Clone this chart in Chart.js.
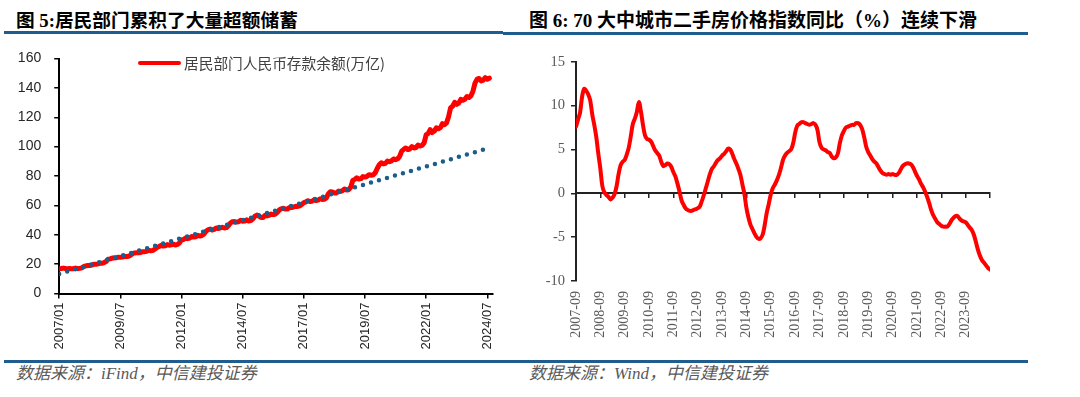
<!DOCTYPE html>
<html><head><meta charset="utf-8">
<script src="https://cdn.jsdelivr.net/npm/chart.js@4.4.1/dist/chart.umd.min.js"></script>
<style>
html,body{margin:0;padding:0;background:#fff;}
body{width:1080px;height:397px;overflow:hidden;position:relative;}
.t{position:absolute;white-space:nowrap;}
.title{font-weight:bold;font-size:18.7px;font-family:"Liberation Serif","Noto Sans CJK SC",serif;color:#000;top:9px;line-height:24px;}
.rule{position:absolute;background:#1F5D8E;}
.src{font-style:italic;font-size:17px;font-family:"Liberation Serif","Noto Sans CJK SC",serif;color:#595959;top:362.5px;line-height:22px;}
.leg{font-size:14.7px;font-family:"Noto Sans CJK SC",sans-serif;color:#404040;line-height:20px;top:52.5px;left:184px;}
canvas{position:absolute;top:0;}
</style></head>
<body>
<div class="t title" style="left:16px">图 5:居民部门累积了大量超额储蓄</div>
<div class="t title" style="left:529px;font-size:19px">图 6: 70 大中城市二手房价格指数同比（%）连续下滑</div>
<div class="rule" style="left:4px;top:31px;width:499px;height:3px"></div>
<div class="rule" style="left:503px;top:32px;width:525px;height:3px"></div>
<div class="rule" style="left:4px;top:360px;width:1024px;height:2.5px"></div>
<div class="t src" style="left:16px">数据来源：iFind，中信建投证券</div>
<div class="t src" style="left:529px">数据来源：Wind，中信建投证券</div>
<canvas id="c1" width="520" height="397" style="left:0"></canvas>
<canvas id="c2" width="560" height="397" style="left:520px"></canvas>
<div class="t" style="left:138px;top:60.5px;width:43px;height:4.5px;background:#FF0000;border-radius:2px"></div>
<div class="t leg">居民部门人民币存款余额(万亿)</div>
<script>
// ---------- Left chart data: household RMB deposits (trillion yuan), monthly from 2007/01 ----------
const depositStart = '2007/01';
const deposit2007 = [16.8, 17.0, 17.3, 17.0, 16.7, 17.0, 16.9, 16.9, 17.3, 16.9, 17.1, 17.3];
const deposit2008 = [18.3, 18.8, 19.1, 19.0, 19.3, 19.9, 19.9, 20.2, 20.6, 20.6, 21.0, 21.8];
const deposit2009 = [23.3, 23.6, 24.1, 24.1, 24.3, 24.7, 24.6, 24.8, 25.3, 25.1, 25.4, 26.1];
const deposit2010 = [27.1, 27.6, 27.7, 27.7, 27.9, 28.5, 28.5, 28.8, 29.4, 29.1, 29.4, 30.3];
const deposit2011 = [31.4, 32.0, 32.8, 32.3, 32.5, 33.3, 32.9, 33.1, 33.6, 33.0, 33.4, 34.4];
const deposit2012 = [36.5, 36.8, 37.8, 37.3, 37.7, 38.8, 38.4, 38.6, 39.6, 39.1, 39.5, 40.4];
const deposit2013 = [42.4, 43.4, 43.9, 43.2, 43.6, 44.6, 44.3, 44.6, 45.1, 44.6, 44.9, 46.2];
const deposit2014 = [48.0, 48.9, 49.0, 48.6, 48.8, 49.8, 49.2, 49.3, 50.2, 49.3, 49.6, 50.8];
const deposit2015 = [52.6, 53.4, 52.7, 51.8, 51.8, 53.2, 52.8, 53.3, 54.1, 53.7, 54.0, 55.2];
const deposit2016 = [56.9, 57.8, 58.0, 57.5, 57.5, 58.6, 58.5, 58.9, 59.4, 59.3, 59.7, 60.6];
const deposit2017 = [61.9, 62.3, 63.2, 62.6, 62.8, 63.7, 63.3, 63.6, 64.5, 64.0, 64.1, 64.9];
const deposit2018 = [67.8, 69.3, 69.1, 68.4, 68.5, 69.7, 69.5, 70.0, 71.2, 70.5, 70.7, 72.4];
const deposit2019 = [77.0, 77.7, 78.8, 77.9, 78.2, 79.6, 79.3, 79.8, 80.9, 80.5, 80.8, 82.1];
const deposit2020 = [85.1, 87.6, 89.0, 88.2, 88.6, 90.2, 89.7, 90.3, 91.6, 91.1, 91.7, 93.4];
const deposit2021 = [97.0, 98.2, 99.1, 98.0, 98.4, 100.0, 99.1, 99.4, 101.0, 100.4, 100.8, 102.5];
const deposit2022 = [108.0, 109.0, 111.6, 109.6, 110.6, 112.8, 112.1, 112.9, 115.6, 114.9, 116.2, 120.3];
const deposit2023 = [126.5, 127.5, 130.2, 128.8, 129.6, 132.2, 131.6, 132.3, 134.1, 133.5, 134.6, 137.9];
const deposit2024 = [143.4, 145.9, 146.4, 144.7, 145.3, 147.0, 145.9, 146.6];
// dotted trend line: read endpoints
const trendMonths = ['2007/01', '2024/07'];
const trendValues = [13.3, 98.7];
const leftTickLabels = ['2007/01', '2009/07', '2012/01', '2014/07', '2017/01', '2019/07', '2022/01', '2024/07'];
const leftAxisEnd = '2024/10';
const legendLabel = '居民部门人民币存款余额(万亿)';

// ---------- Right chart data: 70-city second-hand housing price index YoY (%), monthly from 2007-09 ----------
const priceStart = '2007-09';
const price2007 = [7.6, 8.4, 9.2, 11.0];
const price2008 = [11.9, 11.7, 11.3, 10.6, 9.0, 7.8, 6.4, 4.5, 2.8, 0.8, 0.1, -0.2];
const price2009 = [-0.4, -0.7, -0.5, -0.1, 0.8, 2.2, 3.2, 3.6, 3.8, 4.4, 5.2, 6.5];
const price2010 = [7.9, 8.5, 9.3, 10.4, 9.3, 7.8, 6.6, 6.2, 6.1, 5.9, 5.4, 4.9];
const price2011 = [4.6, 4.3, 3.6, 3.1, 3.2, 3.4, 3.3, 3.0, 2.4, 1.9, 1.1, 0.2];
const price2012 = [-0.8, -1.3, -1.7, -1.9, -2.0, -2.0, -1.9, -1.8, -1.7, -1.5, -0.9, -0.2];
const price2013 = [0.6, 1.4, 2.2, 2.8, 3.1, 3.5, 3.8, 4.0, 4.3, 4.5, 4.8, 5.1];
const price2014 = [5.0, 4.5, 3.9, 3.4, 2.8, 2.1, 1.0, -0.1, -1.7, -2.8, -3.6, -4.1];
const price2015 = [-4.6, -5.0, -5.2, -5.1, -4.7, -3.6, -2.2, -1.2, -0.1, 0.6, 1.0, 1.5];
const price2016 = [2.1, 2.9, 3.8, 4.3, 4.6, 4.8, 5.0, 5.7, 6.9, 7.7, 7.9, 8.1];
const price2017 = [8.1, 8.0, 7.9, 7.8, 7.9, 8.0, 7.8, 7.2, 5.8, 5.2, 5.0, 4.9];
const price2018 = [4.7, 4.6, 4.2, 4.0, 4.1, 4.5, 5.7, 6.6, 7.1, 7.5, 7.6, 7.7];
const price2019 = [7.8, 7.8, 8.0, 8.0, 7.8, 7.3, 6.4, 5.3, 4.7, 4.3, 3.9, 3.6];
const price2020 = [3.4, 3.0, 2.6, 2.3, 2.2, 2.1, 2.2, 2.1, 2.2, 2.1, 2.1, 2.3];
const price2021 = [2.7, 3.1, 3.3, 3.4, 3.4, 3.3, 3.0, 2.5, 2.0, 1.6, 1.1, 0.7];
const price2022 = [0.2, -0.4, -1.1, -1.9, -2.5, -2.9, -3.3, -3.5, -3.7, -3.8, -3.8, -3.8];
const price2023 = [-3.5, -3.1, -2.8, -2.6, -2.6, -2.9, -3.1, -3.2, -3.3, -3.6, -3.9, -4.2];
const price2024 = [-4.7, -5.5, -6.4, -7.1, -7.6, -7.9, -8.2, -8.5, -8.7];
const rightTickLabels = ['2007-09', '2008-09', '2009-09', '2010-09', '2011-09', '2012-09', '2013-09', '2014-09',
  '2015-09', '2016-09', '2017-09', '2018-09', '2019-09', '2020-09', '2021-09', '2022-09', '2023-09'];
const rightAxisEnd = '2024-09';

// ---------- helpers ----------
function monthIndex(label, start) {
  const [y, m] = label.split(/[\/-]/).map(Number);
  const [y0, m0] = start.split(/[\/-]/).map(Number);
  return (y - y0) * 12 + (m - m0);
}
const depositValues = [].concat(deposit2007, deposit2008, deposit2009, deposit2010, deposit2011, deposit2012,
  deposit2013, deposit2014, deposit2015, deposit2016, deposit2017, deposit2018, deposit2019, deposit2020,
  deposit2021, deposit2022, deposit2023, deposit2024);
const priceValues = [].concat(price2007, price2008, price2009, price2010, price2011, price2012, price2013,
  price2014, price2015, price2016, price2017, price2018, price2019, price2020, price2021, price2022, price2023, price2024);

Chart.defaults.animation = false;
Chart.defaults.devicePixelRatio = 1;

// ---------- Left chart ----------
const leftTickPos = leftTickLabels.map(l => monthIndex(l, depositStart));
new Chart(document.getElementById('c1'), {
  type: 'line',
  data: {
    datasets: [
      {
        label: legendLabel,
        data: depositValues.map((v, i) => ({x: i, y: v})),
        borderColor: '#FF0000', borderWidth: 5, pointRadius: 0, tension: 0,
        borderJoinStyle: 'round', borderCapStyle: 'round', order: 2
      },
      {
        label: 'trend',
        data: trendValues.map((v, i) => ({x: monthIndex(trendMonths[i], depositStart), y: v})),
        borderColor: '#1B5E8C', borderWidth: 4.5, pointRadius: 0,
        borderDash: [0, 8.33], borderCapStyle: 'round', order: 1
      }
    ]
  },
  options: {
    responsive: false,
    layout: {padding: {top: 58.5, right: 27.6, left: 0, bottom: 0}},
    plugins: {legend: {display: false}, tooltip: {enabled: false}},
    scales: {
      x: {
        type: 'linear', min: 0, max: monthIndex(leftAxisEnd, depositStart) - 0.5,
        afterBuildTicks: s => { s.ticks = leftTickPos.map(v => ({value: v})); },
        afterFit: s => { s.height = 103.5; },
        ticks: {
          autoSkip: false, minRotation: 90, maxRotation: 90, padding: 4,
          font: {family: 'Liberation Sans', size: 13}, color: '#262626',
          callback: (v, i) => leftTickLabels[i]
        },
        grid: {drawOnChartArea: false, drawTicks: true, tickLength: 5, color: '#000', tickColor: '#000', lineWidth: 1.5},
        border: {display: true, color: '#000', width: 2}
      },
      y: {
        min: 0, max: 160,
        afterFit: s => { s.width = 59.2; },
        ticks: {stepSize: 20, padding: 13, font: {family: 'Liberation Sans', size: 14}, color: '#262626'},
        grid: {drawOnChartArea: false, drawTicks: true, tickLength: 5, color: '#000', tickColor: '#000', lineWidth: 1.5},
        border: {display: true, color: '#000', width: 2}
      }
    }
  }
});

// ---------- Right chart ----------
const rightEnd = monthIndex(rightAxisEnd, priceStart);
const rightLabelPos = rightTickLabels.map(l => monthIndex(l, priceStart));
const rightTickMarks = rightLabelPos.concat([rightEnd]);
new Chart(document.getElementById('c2'), {
  type: 'line',
  data: {
    datasets: [{
      label: '70大中城市二手房价格指数同比',
      data: priceValues.map((v, i) => ({x: i, y: v})),
      borderColor: '#FF0000', borderWidth: 4, pointRadius: 0, tension: 0.35,
      borderJoinStyle: 'round', borderCapStyle: 'round', xAxisID: 'x', yAxisID: 'y'
    }]
  },
  options: {
    responsive: false,
    layout: {padding: {top: 61.7, right: 90, left: 0, bottom: 0}},
    plugins: {legend: {display: false}, tooltip: {enabled: false}},
    scales: {
      x: {
        type: 'linear', min: 0, max: rightEnd, position: {y: 0},
        afterBuildTicks: s => { s.ticks = rightTickMarks.map(v => ({value: v})); },
        afterFit: s => { s.height = 0; },
        ticks: {display: false},
        grid: {drawOnChartArea: false, drawTicks: true, tickLength: 4, color: '#222', tickColor: '#222', lineWidth: 1.5},
        border: {display: true, color: '#222', width: 2}
      },
      xl: {
        type: 'linear', axis: 'x', position: 'bottom', min: 0, max: rightEnd,
        afterBuildTicks: s => { s.ticks = rightLabelPos.map(v => ({value: v})); },
        afterFit: s => { s.height = 116; },
        ticks: {
          autoSkip: false, minRotation: 90, maxRotation: 90, padding: 10,
          font: {family: 'Liberation Serif', size: 14}, color: '#595959',
          callback: (v, i) => rightTickLabels[i]
        },
        grid: {display: false, drawTicks: false},
        border: {display: false}
      },
      y: {
        min: -10, max: 15,
        afterFit: s => { s.width = 56; },
        ticks: {stepSize: 5, padding: 6, font: {family: 'Liberation Serif', size: 14.5}, color: '#595959'},
        grid: {drawOnChartArea: false, drawTicks: true, tickLength: 5, color: '#222', tickColor: '#222', lineWidth: 1.5},
        border: {display: true, color: '#222', width: 2}
      }
    }
  }
});
</script>
</body></html>
